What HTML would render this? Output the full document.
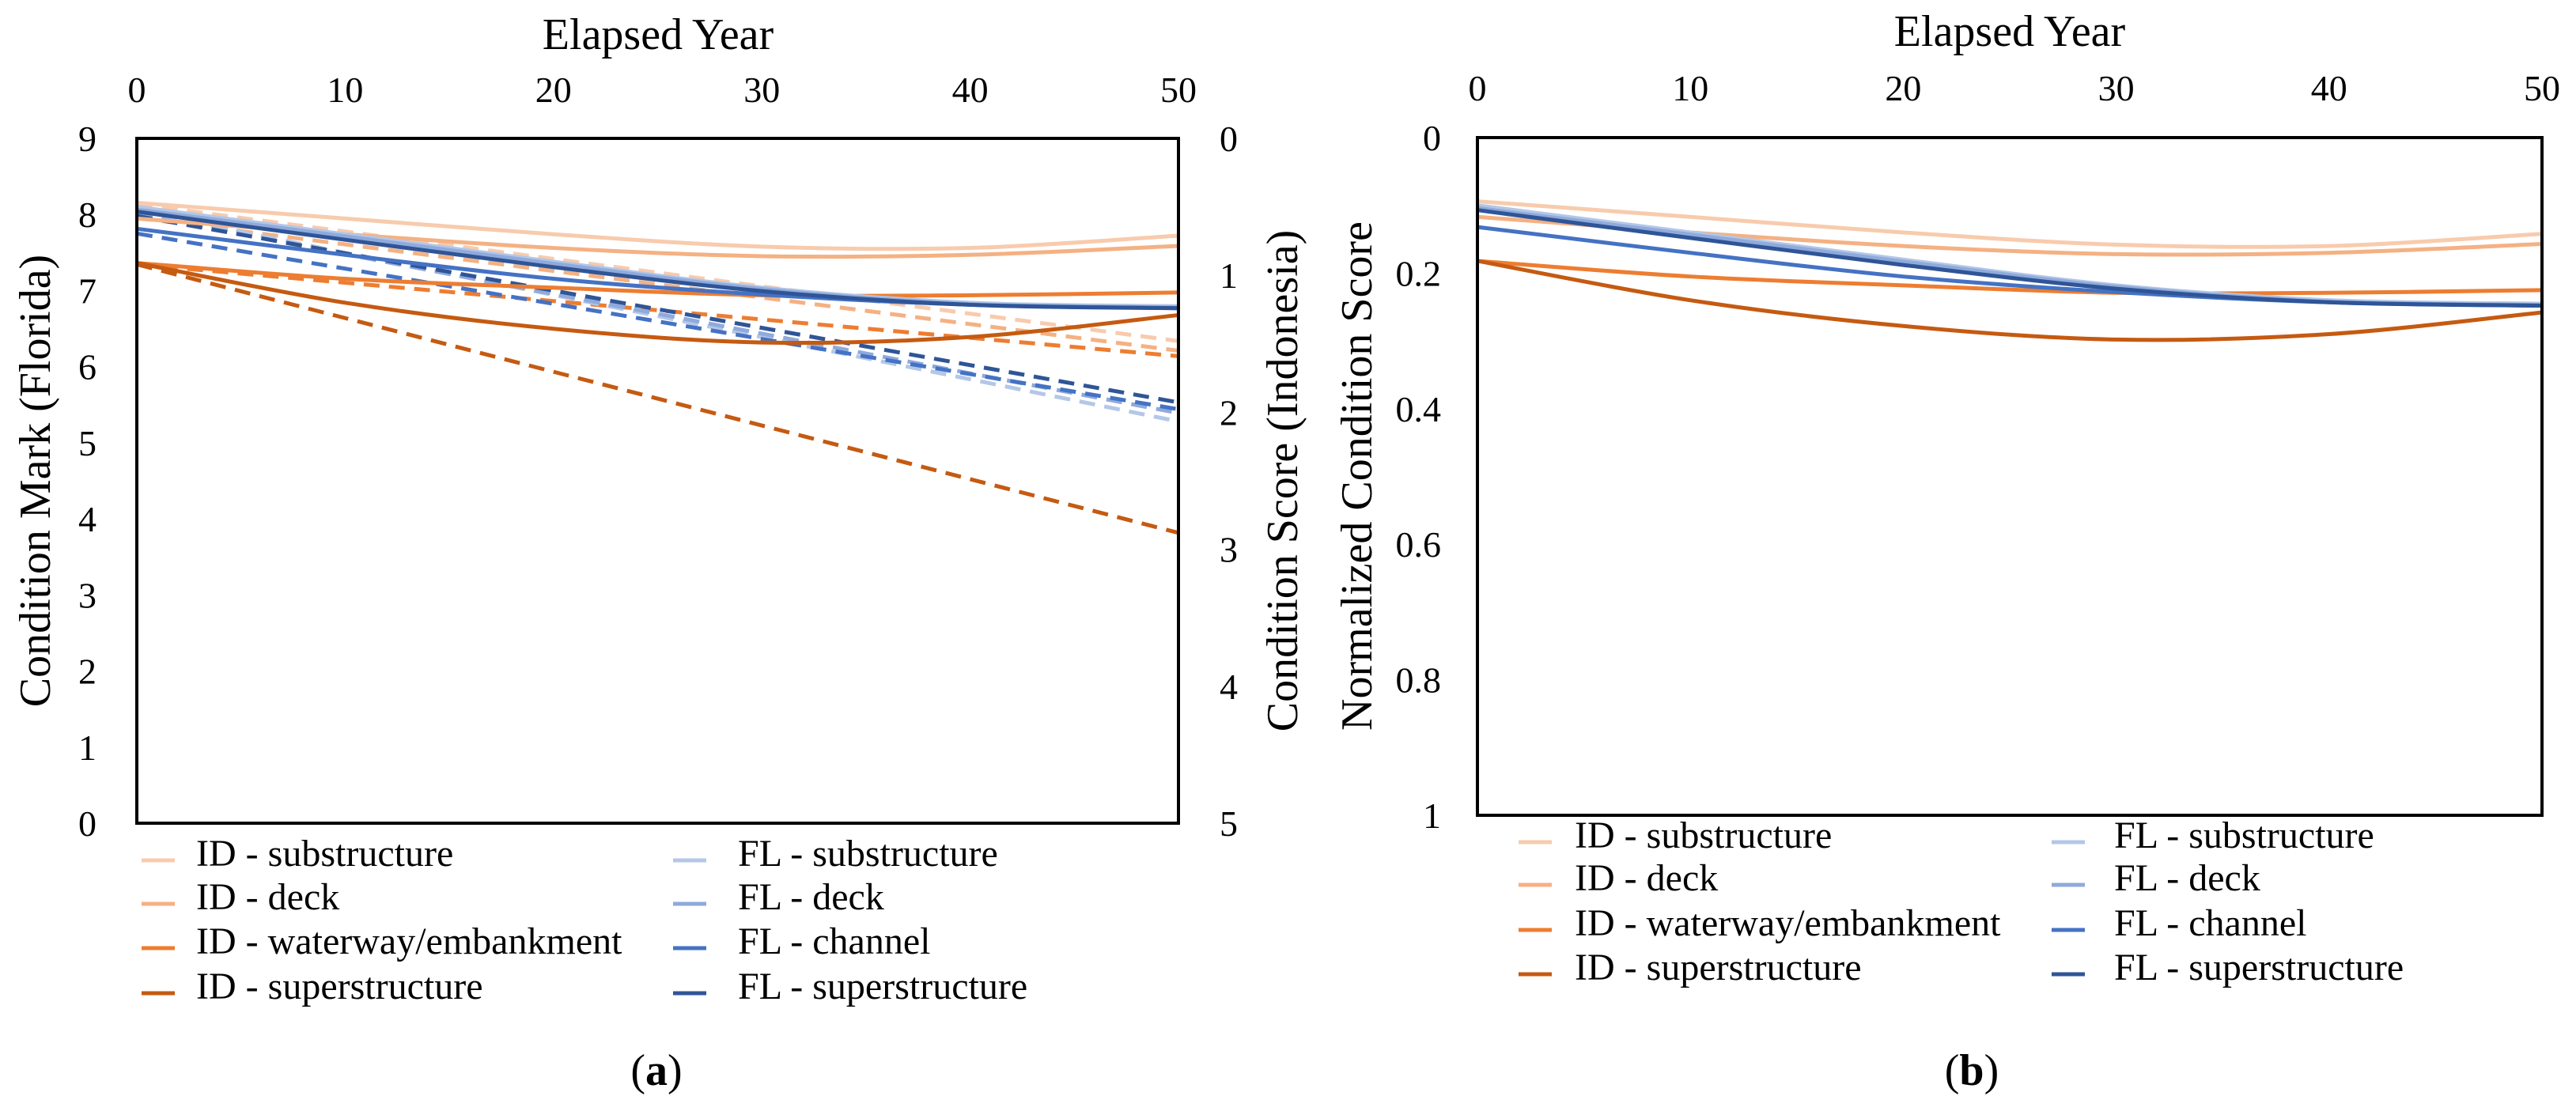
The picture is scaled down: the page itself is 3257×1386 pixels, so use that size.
<!DOCTYPE html>
<html><head><meta charset="utf-8"><style>
html,body{margin:0;padding:0;background:#fff;}
svg{display:block;font-family:"Liberation Serif",serif;}
</style></head><body>
<svg id="fig" width="3257" height="1386" viewBox="0 0 3257 1386" xmlns="http://www.w3.org/2000/svg"></svg>
<script>
// ---- data ----
const years = [0, 10, 20, 30, 40, 50];
const seriesNames = ["ID - substructure","ID - deck","ID - waterway/embankment","ID - superstructure","FL - substructure","FL - deck","FL - channel","FL - superstructure"];
const seriesColors = ["#f8cbad","#f4b183","#ed7d31","#c55a11","#b4c7e7","#8faadc","#4472c4","#2f5597"];
// normalized condition scores (chart b); chart a derives native units from these
const idSub   = [0.094,0.117,0.140,0.158,0.160,0.142];
const idDeck  = [0.117,0.140,0.160,0.172,0.170,0.157];
const idWater = [0.182,0.205,0.218,0.229,0.229,0.225];
const idSuper = [0.182,0.240,0.278,0.298,0.290,0.258];
const flSub   = [0.100,0.140,0.180,0.218,0.240,0.245];
const flDeck  = [0.104,0.143,0.183,0.220,0.242,0.247];
const flChan  = [0.132,0.170,0.205,0.228,0.243,0.248];
const flSuper = [0.107,0.148,0.188,0.223,0.243,0.248];
// dashed trend lines (chart a), values at year 0 and year 50
const dashYears = [0, 50];
const idSubDash   = [0.48, 1.48];
const idDeckDash  = [0.58, 1.55];
const idWaterDash = [0.92, 1.59];
const idSuperDash = [0.92, 2.88];
const flSubDash   = [8.05, 5.28];
const flDeckDash  = [8.00, 5.39];
const flChanDash  = [7.75, 5.44];
const flSuperDash = [7.98, 5.53];
const xTicks = [0,10,20,30,40,50];
const markTicks = [0,1,2,3,4,5,6,7,8,9];
const scoreTicks = [0,1,2,3,4,5];
const normTicks = ["0","0.2","0.4","0.6","0.8","1"];

const NS = "http://www.w3.org/2000/svg";
const svg = document.getElementById("fig");
function el(tag, attrs, parent, text){
  const e = document.createElementNS(NS, tag);
  for (const k in attrs) e.setAttribute(k, attrs[k]);
  if (text !== undefined) e.textContent = text;
  (parent || svg).appendChild(e);
  return e;
}
function smoothPath(pts){
  let d = "M" + pts[0][0] + "," + pts[0][1];
  for (let i = 0; i < pts.length - 1; i++){
    const p0 = pts[Math.max(0,i-1)], p1 = pts[i], p2 = pts[i+1], p3 = pts[Math.min(pts.length-1,i+2)];
    const c1x = p1[0] + (p2[0]-p0[0])/6, c1y = p1[1] + (p2[1]-p0[1])/6;
    const c2x = p2[0] - (p3[0]-p1[0])/6, c2y = p2[1] - (p3[1]-p1[1])/6;
    d += " C" + c1x + "," + c1y + " " + c2x + "," + c2y + " " + p2[0] + "," + p2[1];
  }
  return d;
}

// ---------- Chart A ----------
const A = {x0:173, x1:1490, y0:175, y1:1041};
const ax = v => A.x0 + (v/50)*(A.x1-A.x0);
const ayMark = m => A.y1 - (m/9)*(A.y1-A.y0);
const ayScore = s => A.y0 + (s/5)*(A.y1-A.y0);
const gA = el("g", {});



const idNorm = [idSub, idDeck, idWater, idSuper];
const flNorm = [flSub, flDeck, flChan, flSuper];
const idDash = [idSubDash, idDeckDash, idWaterDash, idSuperDash];
const flDash = [flSubDash, flDeckDash, flChanDash, flSuperDash];
const dashNames = ["id-substructure","id-deck","id-waterway","id-superstructure","fl-substructure","fl-deck","fl-channel","fl-superstructure"];

idDash.forEach((arr, i) => {
  const p = el("path", {d:"M"+ax(dashYears[0])+","+ayScore(arr[0])+" L"+ax(dashYears[1])+","+ayScore(arr[1]), stroke:seriesColors[i], "stroke-width":5, fill:"none", "stroke-dasharray":"20 12"}, gA);
  
  
});
flDash.forEach((arr, i) => {
  const p = el("path", {d:"M"+ax(dashYears[0])+","+ayMark(arr[0])+" L"+ax(dashYears[1])+","+ayMark(arr[1]), stroke:seriesColors[i+4], "stroke-width":5, fill:"none", "stroke-dasharray":"20 12"}, gA);
  
  
});
idNorm.forEach((arr, i) => {
  const pts = years.map((y, j) => [ax(y), ayScore(arr[j]*5)]);
  const p = el("path", {d:smoothPath(pts), stroke:seriesColors[i], "stroke-width":5, fill:"none"}, gA);
  
  
});
flNorm.forEach((arr, i) => {
  const pts = years.map((y, j) => [ax(y), ayMark(9 - arr[j]*9)]);
  const p = el("path", {d:smoothPath(pts), stroke:seriesColors[i+4], "stroke-width":5, fill:"none"}, gA);
  
  
});
const frA = el("rect", {x:A.x0, y:A.y0, width:A.x1-A.x0, height:A.y1-A.y0, fill:"none", stroke:"#000", "stroke-width":4}, gA);



xTicks.forEach(t => {
  const e = el("text", {x:ax(t), y:129, "font-size":46, "text-anchor":"middle"}, gA, String(t));
  
  
});
markTicks.forEach(t => {
  const e = el("text", {x:122, y:ayMark(t)+16, "font-size":46, "text-anchor":"end"}, gA, String(t));
  
  
});
scoreTicks.forEach(t => {
  const e = el("text", {x:1542, y:ayScore(t)+16, "font-size":46, "text-anchor":"start"}, gA, String(t));
  
  
});
let t1 = el("text", {x:832, y:62, "font-size":56, "text-anchor":"middle"}, gA, "Elapsed Year");


let t2 = el("text", {x:0, y:0, "font-size":56, "text-anchor":"middle", "dominant-baseline":"central", transform:"translate(45,608) rotate(-90)"}, gA, "Condition Mark (Florida)");


let t3 = el("text", {x:0, y:0, "font-size":56, "text-anchor":"middle", "dominant-baseline":"central", transform:"translate(1622,608) rotate(-90)"}, gA, "Condition Score (Indonesia)");



// ---------- Chart B ----------
const B = {x0:1868, x1:3214, y0:174, y1:1031};
const bx = v => B.x0 + (v/50)*(B.x1-B.x0);
const by = n => B.y0 + n*(B.y1-B.y0);
const gB = el("g", {});


idNorm.concat(flNorm).forEach((arr, i) => {
  const pts = years.map((y, j) => [bx(y), by(arr[j])]);
  const p = el("path", {d:smoothPath(pts), stroke:seriesColors[i], "stroke-width":5, fill:"none"}, gB);
  
  
});
const frB = el("rect", {x:B.x0, y:B.y0, width:B.x1-B.x0, height:B.y1-B.y0, fill:"none", stroke:"#000", "stroke-width":4}, gB);


xTicks.forEach(t => {
  const e = el("text", {x:bx(t), y:127, "font-size":46, "text-anchor":"middle"}, gB, String(t));
  
  
});
normTicks.forEach(t => {
  const e = el("text", {x:1822, y:by(parseFloat(t))+16, "font-size":46, "text-anchor":"end"}, gB, t);
  
  
});
let t4 = el("text", {x:2541, y:58, "font-size":56, "text-anchor":"middle"}, gB, "Elapsed Year");


let t5 = el("text", {x:0, y:0, "font-size":56, "text-anchor":"middle", "dominant-baseline":"central", transform:"translate(1716,602) rotate(-90)"}, gB, "Normalized Condition Score");



// ---------- Legends ----------
function legend(g, sw1, tx1, sw2, tx2, rows, prefix){
  seriesNames.forEach((name, i) => {
    const col = i < 4 ? 0 : 1, r = i % 4;
    const sx = col ? sw2 : sw1, tx = col ? tx2 : tx1, yy = rows[r];
    const s = el("line", {x1:sx, x2:sx+42, y1:yy, y2:yy, stroke:seriesColors[i], "stroke-width":5}, g);
    
    
    const t = el("text", {x:tx, y:yy+7, "font-size":48}, g, name);
    
    
  });
}
legend(gA, 179, 248, 851, 933, [1088,1143,1199,1256], "a");
legend(gB, 1920, 1991, 2594, 2673, [1065,1119,1176,1232], "b");

function caption(x, letter, name){
  const t = el("text", {x:x, y:1372, "font-size":56, "text-anchor":"middle"}, svg);
  
  
  const a = document.createElementNS(NS, "tspan"); a.textContent = "("; t.appendChild(a);
  const b = document.createElementNS(NS, "tspan"); b.setAttribute("font-weight","bold"); b.textContent = letter; t.appendChild(b);
  const c = document.createElementNS(NS, "tspan"); c.textContent = ")"; t.appendChild(c);
}
caption(830, "a", "caption-a");
caption(2493, "b", "caption-b");
</script>
</body></html>
